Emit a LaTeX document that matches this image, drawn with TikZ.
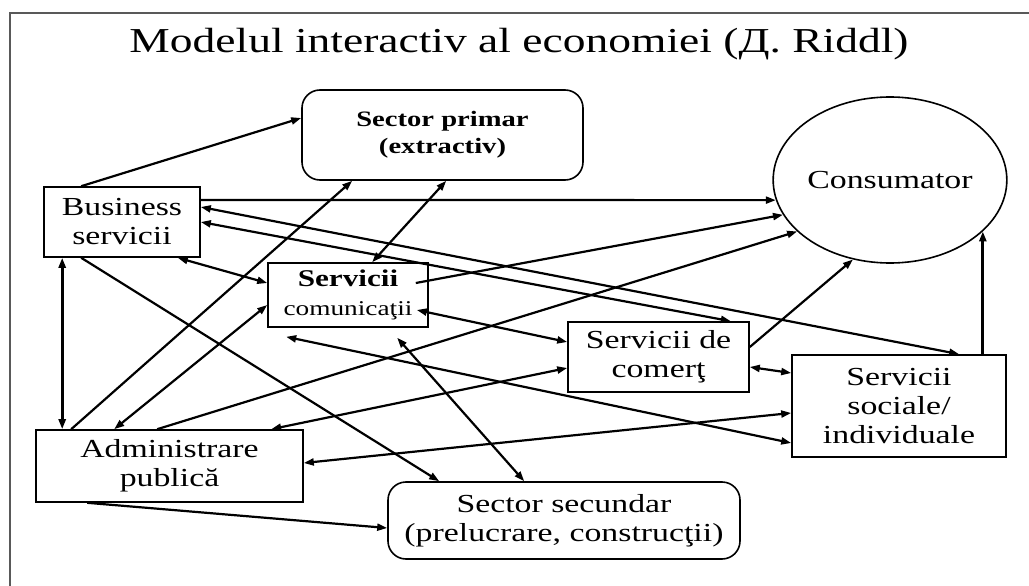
\documentclass[tikz,border=0pt]{standalone}
\usepackage{fontspec}
\setmainfont{Liberation Serif}[FakeStretch=1.3]
\usetikzlibrary{arrows.meta,shapes.geometric,calc}
\tikzset{
  box/.style={draw, line width=1.6, align=center, inner sep=0pt, font=\fontsize{26}{29}\selectfont},
  rbox/.style={box, rounded corners=18},
  conn/.style={line width=2.2, -{Triangle[length=10,width=7]}},
  conn2/.style={line width=2.2, {Triangle[length=10,width=7]}-{Triangle[length=10,width=7]}},
  thick2/.style={line width=3.2},
}
\begin{document}
\begin{tikzpicture}[x=1pt,y=-1pt]
\useasboundingbox (0,0) rectangle (1029,586);
\draw[line width=1.5, gray!70!black] (10,586) -- (10,13) -- (1029,13);
\node[font=\fontsize{35}{40}\selectfont] (title) at (519,44) {Modelul interactiv al economiei (Д. Riddl)};
\node[rbox, minimum width=281, minimum height=90, font=\fontsize{22}{27}\selectfont\bfseries] (sp) at (442.5,135) {Sector primar\\(extractiv)};
\node[box, ellipse, minimum width=233, minimum height=166] (cons) at (890,180) {Consumator};
\node[box, minimum width=156, minimum height=70] (bs) at (122,222) {Business\\servicii};
\node[box, minimum width=160, minimum height=64] (sc) at (348,295) {{\fontsize{24}{27}\selectfont\bfseries Servicii}\\{\fontsize{21}{24}\selectfont comunicaţii}};
\node[box, minimum width=181, minimum height=70] (com) at (658.5,357) {Servicii de\\comerţ};
\node[box, minimum width=214, minimum height=102] (soc) at (899,406) {Servicii\\sociale/\\individuale};
\node[box, minimum width=267, minimum height=72] (ap) at (169.5,466) {Administrare\\publică};
\node[rbox, minimum width=352, minimum height=77] (ss) at (564,520.5) {Sector secundar\\(prelucrare, construcţii)};
% connectors
\draw[conn] ($(bs.north west)+(38,0)$) -- ($(sp.west)+(0,-17)$);
\draw[conn] ($(bs.east)+(0,-22)$) -- (cons.190);
\draw[conn2] ($(bs.east)+(0,-15)$) -- ($(soc.north west)+(168,0)$);
\draw[conn2] (bs.east) -- ($(com.north east)+(-19,0)$);
\draw[conn2] ($(bs.south east)+(-23,0)$) -- ($(sc.west)+(0,-12)$);
\draw[conn2, thick2] ($(bs.south west)+(19,0)$) -- ($(ap.north west)+(27,0)$);
\draw[conn] ($(bs.south west)+(38,0)$) -- ($(ss.north west)+(52,0)$);
\draw[conn] ($(ap.north west)+(36,0)$) -- ($(sp.south west)+(51,0)$);
\draw[conn2] ($(sp.south west)+(145,0)$) -- ($(sc.north west)+(105,0)$);
\draw[conn2] ($(sc.west)+(0,10)$) -- ($(ap.north west)+(79,0)$);
\draw[conn] ($(sc.east)+(-13,-12)$) -- (cons.198);
\draw[conn] ($(ap.north west)+(122,0)$) -- (cons.209);
\draw[conn2] ($(sc.east)+(-12,15)$) -- ($(com.west)+(0,-15)$);
\draw[conn2] ($(sc.south west)+(19,9)$) -- ($(soc.west)+(0,37)$);
\draw[conn2] ($(sc.south west)+(130,10)$) -- ($(ss.north west)+(137,0)$);
\draw[conn2] ($(ap.north west)+(236,0)$) -- ($(com.west)+(0,11)$);
\draw[conn2] ($(ap.east)+(0,-3)$) -- ($(soc.west)+(0,7)$);
\draw[conn] ($(ap.south west)+(52,0)$) -- ($(ss.west)+(0,7.5)$);
\draw[conn2] ($(com.east)+(0,10)$) -- ($(soc.west)+(0,-33)$);
\draw[conn] ($(com.east)+(0,-10)$) -- (cons.245);
\draw[conn, thick2] (cons.331 |- soc.north) -- (cons.331);
\end{tikzpicture}
\end{document}
